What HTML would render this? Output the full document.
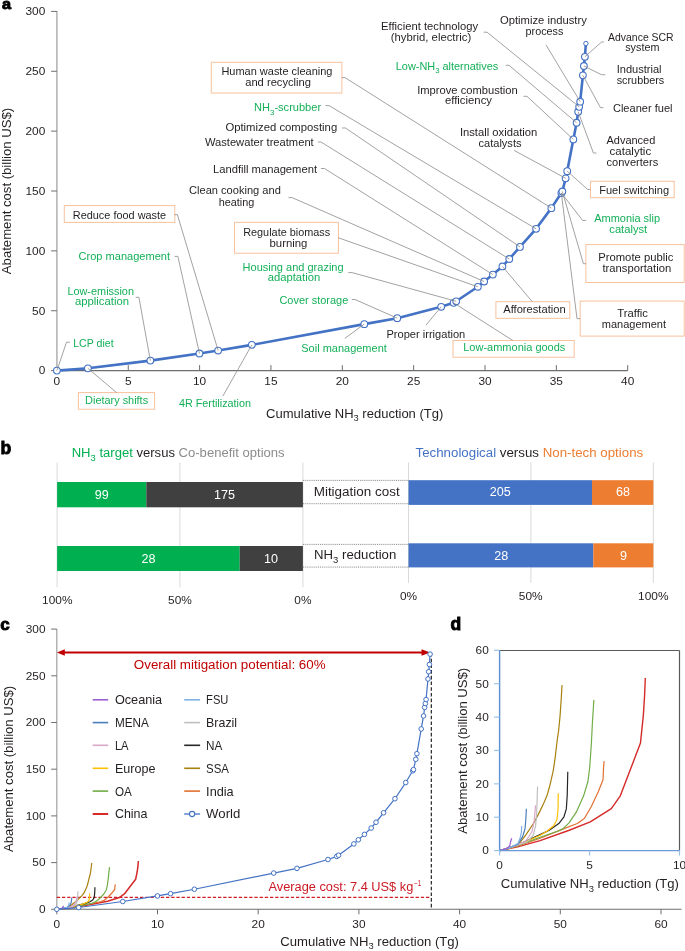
<!DOCTYPE html>
<html><head><meta charset="utf-8"><style>
html,body{margin:0;padding:0;background:#fff;}
svg{display:block;will-change:transform;}
text{font-family:"Liberation Sans",sans-serif;white-space:pre;}
</style></head><body>
<svg xml:space="preserve" width="685" height="951" viewBox="0 0 685 951">
<rect x="0" y="0" width="685" height="951" fill="#fff"/>
<line x1="56.90" y1="11.00" x2="56.90" y2="371.10" stroke="#b0b0b0" stroke-width="1.5"/>
<line x1="56.30" y1="370.60" x2="627.80" y2="370.60" stroke="#6e6e6e" stroke-width="1.1"/>
<line x1="51.10" y1="370.60" x2="56.90" y2="370.60" stroke="#6e6e6e" stroke-width="1"/>
<text x="38.70" y="374.40" font-size="10.5" fill="#231f20" style="" textLength="6.60" lengthAdjust="spacingAndGlyphs">0</text>
<line x1="51.10" y1="310.74" x2="56.90" y2="310.74" stroke="#6e6e6e" stroke-width="1"/>
<text x="32.10" y="314.54" font-size="10.5" fill="#231f20" style="" textLength="13.20" lengthAdjust="spacingAndGlyphs">50</text>
<line x1="51.10" y1="250.87" x2="56.90" y2="250.87" stroke="#6e6e6e" stroke-width="1"/>
<text x="25.50" y="254.67" font-size="10.5" fill="#231f20" style="" textLength="19.80" lengthAdjust="spacingAndGlyphs">100</text>
<line x1="51.10" y1="191.01" x2="56.90" y2="191.01" stroke="#6e6e6e" stroke-width="1"/>
<text x="25.50" y="194.81" font-size="10.5" fill="#231f20" style="" textLength="19.80" lengthAdjust="spacingAndGlyphs">150</text>
<line x1="51.10" y1="131.14" x2="56.90" y2="131.14" stroke="#6e6e6e" stroke-width="1"/>
<text x="25.50" y="134.94" font-size="10.5" fill="#231f20" style="" textLength="19.80" lengthAdjust="spacingAndGlyphs">200</text>
<line x1="51.10" y1="71.28" x2="56.90" y2="71.28" stroke="#6e6e6e" stroke-width="1"/>
<text x="25.50" y="75.08" font-size="10.5" fill="#231f20" style="" textLength="19.80" lengthAdjust="spacingAndGlyphs">250</text>
<line x1="51.10" y1="11.41" x2="56.90" y2="11.41" stroke="#6e6e6e" stroke-width="1"/>
<text x="25.50" y="15.21" font-size="10.5" fill="#231f20" style="" textLength="19.80" lengthAdjust="spacingAndGlyphs">300</text>
<text x="53.60" y="385.20" font-size="10.5" fill="#231f20" style="" textLength="6.60" lengthAdjust="spacingAndGlyphs">0</text>
<line x1="128.25" y1="370.60" x2="128.25" y2="365.10" stroke="#6e6e6e" stroke-width="1"/>
<text x="124.95" y="385.20" font-size="10.5" fill="#231f20" style="" textLength="6.60" lengthAdjust="spacingAndGlyphs">5</text>
<line x1="199.60" y1="370.60" x2="199.60" y2="365.10" stroke="#6e6e6e" stroke-width="1"/>
<text x="193.00" y="385.20" font-size="10.5" fill="#231f20" style="" textLength="13.20" lengthAdjust="spacingAndGlyphs">10</text>
<line x1="270.95" y1="370.60" x2="270.95" y2="365.10" stroke="#6e6e6e" stroke-width="1"/>
<text x="264.35" y="385.20" font-size="10.5" fill="#231f20" style="" textLength="13.20" lengthAdjust="spacingAndGlyphs">15</text>
<line x1="342.30" y1="370.60" x2="342.30" y2="365.10" stroke="#6e6e6e" stroke-width="1"/>
<text x="335.70" y="385.20" font-size="10.5" fill="#231f20" style="" textLength="13.20" lengthAdjust="spacingAndGlyphs">20</text>
<line x1="413.65" y1="370.60" x2="413.65" y2="365.10" stroke="#6e6e6e" stroke-width="1"/>
<text x="407.05" y="385.20" font-size="10.5" fill="#231f20" style="" textLength="13.20" lengthAdjust="spacingAndGlyphs">25</text>
<line x1="485.00" y1="370.60" x2="485.00" y2="365.10" stroke="#6e6e6e" stroke-width="1"/>
<text x="478.40" y="385.20" font-size="10.5" fill="#231f20" style="" textLength="13.20" lengthAdjust="spacingAndGlyphs">30</text>
<line x1="556.35" y1="370.60" x2="556.35" y2="365.10" stroke="#6e6e6e" stroke-width="1"/>
<text x="549.75" y="385.20" font-size="10.5" fill="#231f20" style="" textLength="13.20" lengthAdjust="spacingAndGlyphs">35</text>
<line x1="627.70" y1="370.60" x2="627.70" y2="365.10" stroke="#6e6e6e" stroke-width="1"/>
<text x="621.10" y="385.20" font-size="10.5" fill="#231f20" style="" textLength="13.20" lengthAdjust="spacingAndGlyphs">40</text>
<rect x="211.30" y="62.30" width="130.60" height="30.70" fill="#fff" stroke="#f7c29d" stroke-width="1"/>
<text x="221.40" y="74.90" font-size="11" fill="#231f20" style="" textLength="111.10" lengthAdjust="spacingAndGlyphs">Human waste cleaning</text>
<text x="245.20" y="86.40" font-size="11" fill="#231f20" style="" textLength="65.80" lengthAdjust="spacingAndGlyphs">and recycling</text>
<text x="254.00" y="111.20" font-size="11" fill="#14b058" style="" textLength="15.97" lengthAdjust="spacingAndGlyphs">NH</text>
<text x="269.97" y="114.83" font-size="7.92" fill="#14b058" style="" textLength="4.43" lengthAdjust="spacingAndGlyphs">3</text>
<text x="274.40" y="111.20" font-size="11" fill="#14b058" style="" textLength="46.70" lengthAdjust="spacingAndGlyphs">-scrubber</text>
<text x="225.40" y="131.40" font-size="11" fill="#231f20" style="" textLength="111.80" lengthAdjust="spacingAndGlyphs">Optimized composting</text>
<text x="204.90" y="146.30" font-size="11" fill="#231f20" style="" textLength="108.80" lengthAdjust="spacingAndGlyphs">Wastewater treatment</text>
<text x="213.00" y="172.60" font-size="11" fill="#231f20" style="" textLength="104.00" lengthAdjust="spacingAndGlyphs">Landfill management</text>
<text x="189.00" y="194.40" font-size="11" fill="#231f20" style="" textLength="91.80" lengthAdjust="spacingAndGlyphs">Clean cooking and</text>
<text x="218.70" y="205.50" font-size="11" fill="#231f20" style="" textLength="35.60" lengthAdjust="spacingAndGlyphs">heating</text>
<rect x="234.50" y="222.30" width="103.90" height="30.90" fill="#fff" stroke="#f7c29d" stroke-width="1"/>
<text x="243.20" y="235.80" font-size="11" fill="#231f20" style="" textLength="87.00" lengthAdjust="spacingAndGlyphs">Regulate biomass</text>
<text x="269.50" y="246.50" font-size="11" fill="#231f20" style="" textLength="37.90" lengthAdjust="spacingAndGlyphs">burning</text>
<text x="242.60" y="270.60" font-size="11" fill="#14b058" style="" textLength="101.00" lengthAdjust="spacingAndGlyphs">Housing and grazing</text>
<text x="267.70" y="281.20" font-size="11" fill="#14b058" style="" textLength="52.60" lengthAdjust="spacingAndGlyphs">adaptation</text>
<text x="279.40" y="304.30" font-size="11" fill="#14b058" style="" textLength="68.90" lengthAdjust="spacingAndGlyphs">Cover storage</text>
<text x="301.30" y="351.80" font-size="11" fill="#14b058" style="" textLength="85.50" lengthAdjust="spacingAndGlyphs">Soil management</text>
<text x="386.40" y="338.40" font-size="11" fill="#231f20" style="" textLength="78.90" lengthAdjust="spacingAndGlyphs">Proper irrigation</text>
<rect x="453.00" y="340.50" width="121.20" height="16.70" fill="#fff" stroke="#f7c29d" stroke-width="1"/>
<text x="463.20" y="351.30" font-size="11" fill="#14b058" style="" textLength="102.20" lengthAdjust="spacingAndGlyphs">Low-ammonia goods</text>
<rect x="495.90" y="301.70" width="73.90" height="16.60" fill="#fff" stroke="#f7c29d" stroke-width="1"/>
<text x="503.20" y="313.40" font-size="11" fill="#231f20" style="" textLength="62.50" lengthAdjust="spacingAndGlyphs">Afforestation</text>
<rect x="580.20" y="301.10" width="104.00" height="35.00" fill="#fff" stroke="#f7c29d" stroke-width="1"/>
<text x="617.30" y="316.60" font-size="11" fill="#231f20" style="" textLength="30.70" lengthAdjust="spacingAndGlyphs">Traffic</text>
<text x="601.80" y="327.60" font-size="11" fill="#231f20" style="" textLength="64.20" lengthAdjust="spacingAndGlyphs">management</text>
<rect x="585.90" y="244.60" width="98.30" height="37.90" fill="#fff" stroke="#f7c29d" stroke-width="1"/>
<text x="598.20" y="261.30" font-size="11" fill="#231f20" style="" textLength="75.20" lengthAdjust="spacingAndGlyphs">Promote public</text>
<text x="602.40" y="272.10" font-size="11" fill="#231f20" style="" textLength="68.80" lengthAdjust="spacingAndGlyphs">transportation</text>
<text x="594.20" y="221.50" font-size="11" fill="#14b058" style="" textLength="65.90" lengthAdjust="spacingAndGlyphs">Ammonia slip</text>
<text x="609.30" y="232.60" font-size="11" fill="#14b058" style="" textLength="37.90" lengthAdjust="spacingAndGlyphs">catalyst</text>
<rect x="590.50" y="181.30" width="83.70" height="16.40" fill="#fff" stroke="#f7c29d" stroke-width="1"/>
<text x="599.20" y="193.60" font-size="11" fill="#231f20" style="" textLength="69.90" lengthAdjust="spacingAndGlyphs">Fuel switching</text>
<text x="459.90" y="135.60" font-size="11" fill="#231f20" style="" textLength="77.40" lengthAdjust="spacingAndGlyphs">Install oxidation</text>
<text x="478.50" y="146.80" font-size="11" fill="#231f20" style="" textLength="43.00" lengthAdjust="spacingAndGlyphs">catalysts</text>
<text x="606.50" y="143.80" font-size="11" fill="#231f20" style="" textLength="48.80" lengthAdjust="spacingAndGlyphs">Advanced</text>
<text x="609.60" y="154.80" font-size="11" fill="#231f20" style="" textLength="41.60" lengthAdjust="spacingAndGlyphs">catalytic</text>
<text x="606.50" y="166.30" font-size="11" fill="#231f20" style="" textLength="51.70" lengthAdjust="spacingAndGlyphs">converters</text>
<text x="612.90" y="112.30" font-size="11" fill="#231f20" style="" textLength="59.70" lengthAdjust="spacingAndGlyphs">Cleaner fuel</text>
<text x="616.70" y="72.60" font-size="11" fill="#231f20" style="" textLength="44.90" lengthAdjust="spacingAndGlyphs">Industrial</text>
<text x="616.70" y="84.00" font-size="11" fill="#231f20" style="" textLength="47.50" lengthAdjust="spacingAndGlyphs">scrubbers</text>
<text x="608.10" y="40.50" font-size="11" fill="#231f20" style="" textLength="65.50" lengthAdjust="spacingAndGlyphs">Advance SCR</text>
<text x="625.20" y="51.40" font-size="11" fill="#231f20" style="" textLength="34.20" lengthAdjust="spacingAndGlyphs">system</text>
<text x="500.00" y="24.30" font-size="11" fill="#231f20" style="" textLength="86.80" lengthAdjust="spacingAndGlyphs">Optimize industry</text>
<text x="525.60" y="35.00" font-size="11" fill="#231f20" style="" textLength="37.80" lengthAdjust="spacingAndGlyphs">process</text>
<text x="381.10" y="30.30" font-size="11" fill="#231f20" style="" textLength="97.10" lengthAdjust="spacingAndGlyphs">Efficient technology</text>
<text x="390.80" y="40.50" font-size="11" fill="#231f20" style="" textLength="80.40" lengthAdjust="spacingAndGlyphs">(hybrid, electric)</text>
<text x="395.80" y="69.50" font-size="11" fill="#14b058" style="" textLength="39.33" lengthAdjust="spacingAndGlyphs">Low-NH</text>
<text x="435.13" y="73.13" font-size="7.92" fill="#14b058" style="" textLength="4.36" lengthAdjust="spacingAndGlyphs">3</text>
<text x="439.49" y="69.50" font-size="11" fill="#14b058" style="" textLength="58.71" lengthAdjust="spacingAndGlyphs"> alternatives</text>
<text x="417.20" y="93.50" font-size="11" fill="#231f20" style="" textLength="100.60" lengthAdjust="spacingAndGlyphs">Improve combustion</text>
<text x="444.90" y="104.30" font-size="11" fill="#231f20" style="" textLength="47.10" lengthAdjust="spacingAndGlyphs">efficiency</text>
<rect x="64.30" y="205.60" width="110.50" height="16.80" fill="#fff" stroke="#f7c29d" stroke-width="1"/>
<text x="72.80" y="218.50" font-size="11" fill="#231f20" style="" textLength="93.30" lengthAdjust="spacingAndGlyphs">Reduce food waste</text>
<text x="78.60" y="260.40" font-size="11" fill="#14b058" style="" textLength="91.40" lengthAdjust="spacingAndGlyphs">Crop management</text>
<text x="67.40" y="294.70" font-size="11" fill="#14b058" style="" textLength="66.60" lengthAdjust="spacingAndGlyphs">Low-emission</text>
<text x="74.90" y="305.20" font-size="11" fill="#14b058" style="" textLength="54.10" lengthAdjust="spacingAndGlyphs">application</text>
<text x="73.20" y="347.10" font-size="11" fill="#14b058" style="" textLength="40.40" lengthAdjust="spacingAndGlyphs">LCP diet</text>
<rect x="78.40" y="392.60" width="76.20" height="16.60" fill="#fff" stroke="#f7c29d" stroke-width="1"/>
<text x="85.10" y="403.70" font-size="11" fill="#14b058" style="" textLength="63.00" lengthAdjust="spacingAndGlyphs">Dietary shifts</text>
<text x="178.90" y="407.40" font-size="11" fill="#14b058" style="" textLength="72.10" lengthAdjust="spacingAndGlyphs">4R Fertilization</text>
<polyline points="56.90,370.60 87.87,368.33 150.37,360.60 199.46,353.48 218.15,350.55 251.83,344.86 364.28,324.14 397.24,318.16 441.19,306.78 453.61,302.83 456.17,301.28 477.86,286.79 484.14,281.52 492.85,274.58 502.41,266.43 509.26,259.01 519.96,246.92 536.09,228.84 551.36,208.13 561.34,193.04 562.34,191.48 565.63,178.31 567.20,171.13 573.33,139.40 576.61,122.76 578.18,111.74 579.18,106.83 580.18,101.69 582.89,75.35 583.89,66.01 584.89,56.79 585.89,43.50" fill="none" stroke="#4472c4" stroke-width="2.6" stroke-linejoin="round"/>
<circle cx="56.90" cy="370.60" r="3.35" fill="#fff" stroke="#4472c4" stroke-width="1.1"/>
<circle cx="87.87" cy="368.33" r="3.35" fill="#fff" stroke="#4472c4" stroke-width="1.1"/>
<circle cx="150.37" cy="360.60" r="3.35" fill="#fff" stroke="#4472c4" stroke-width="1.1"/>
<circle cx="199.46" cy="353.48" r="3.35" fill="#fff" stroke="#4472c4" stroke-width="1.1"/>
<circle cx="218.15" cy="350.55" r="3.35" fill="#fff" stroke="#4472c4" stroke-width="1.1"/>
<circle cx="251.83" cy="344.86" r="3.35" fill="#fff" stroke="#4472c4" stroke-width="1.1"/>
<circle cx="364.28" cy="324.14" r="3.35" fill="#fff" stroke="#4472c4" stroke-width="1.1"/>
<circle cx="397.24" cy="318.16" r="3.35" fill="#fff" stroke="#4472c4" stroke-width="1.1"/>
<circle cx="441.19" cy="306.78" r="3.35" fill="#fff" stroke="#4472c4" stroke-width="1.1"/>
<circle cx="453.61" cy="302.83" r="3.35" fill="#fff" stroke="#4472c4" stroke-width="1.1"/>
<circle cx="456.17" cy="301.28" r="3.35" fill="#fff" stroke="#4472c4" stroke-width="1.1"/>
<circle cx="477.86" cy="286.79" r="3.35" fill="#fff" stroke="#4472c4" stroke-width="1.1"/>
<circle cx="484.14" cy="281.52" r="3.35" fill="#fff" stroke="#4472c4" stroke-width="1.1"/>
<circle cx="492.85" cy="274.58" r="3.35" fill="#fff" stroke="#4472c4" stroke-width="1.1"/>
<circle cx="502.41" cy="266.43" r="3.35" fill="#fff" stroke="#4472c4" stroke-width="1.1"/>
<circle cx="509.26" cy="259.01" r="3.35" fill="#fff" stroke="#4472c4" stroke-width="1.1"/>
<circle cx="519.96" cy="246.92" r="3.35" fill="#fff" stroke="#4472c4" stroke-width="1.1"/>
<circle cx="536.09" cy="228.84" r="3.35" fill="#fff" stroke="#4472c4" stroke-width="1.1"/>
<circle cx="551.36" cy="208.13" r="3.35" fill="#fff" stroke="#4472c4" stroke-width="1.1"/>
<circle cx="561.34" cy="193.04" r="3.35" fill="#fff" stroke="#4472c4" stroke-width="1.1"/>
<circle cx="562.34" cy="191.48" r="3.35" fill="#fff" stroke="#4472c4" stroke-width="1.1"/>
<circle cx="565.63" cy="178.31" r="3.35" fill="#fff" stroke="#4472c4" stroke-width="1.1"/>
<circle cx="567.20" cy="171.13" r="3.35" fill="#fff" stroke="#4472c4" stroke-width="1.1"/>
<circle cx="573.33" cy="139.40" r="3.35" fill="#fff" stroke="#4472c4" stroke-width="1.1"/>
<circle cx="576.61" cy="122.76" r="3.35" fill="#fff" stroke="#4472c4" stroke-width="1.1"/>
<circle cx="578.18" cy="111.74" r="3.35" fill="#fff" stroke="#4472c4" stroke-width="1.1"/>
<circle cx="579.18" cy="106.83" r="3.35" fill="#fff" stroke="#4472c4" stroke-width="1.1"/>
<circle cx="580.18" cy="101.69" r="3.35" fill="#fff" stroke="#4472c4" stroke-width="1.1"/>
<circle cx="582.89" cy="75.35" r="3.35" fill="#fff" stroke="#4472c4" stroke-width="1.1"/>
<circle cx="583.89" cy="66.01" r="3.35" fill="#fff" stroke="#4472c4" stroke-width="1.1"/>
<circle cx="584.89" cy="56.79" r="3.35" fill="#fff" stroke="#4472c4" stroke-width="1.1"/>
<circle cx="585.89" cy="43.50" r="2.2" fill="#fff" stroke="#4472c4" stroke-width="1"/>
<polyline points="341.90,77.60 345.00,77.60 551.36,208.13" fill="none" stroke="#8a8a8a" stroke-width="0.8" stroke-linejoin="round"/>
<polyline points="325.50,105.60 329.00,105.60 536.09,228.84" fill="none" stroke="#8a8a8a" stroke-width="0.8" stroke-linejoin="round"/>
<polyline points="342.00,128.00 345.50,128.00 519.96,246.92" fill="none" stroke="#8a8a8a" stroke-width="0.8" stroke-linejoin="round"/>
<polyline points="317.70,142.00 321.00,142.00 509.26,259.01" fill="none" stroke="#8a8a8a" stroke-width="0.8" stroke-linejoin="round"/>
<polyline points="321.00,168.50 324.50,168.50 492.85,274.58" fill="none" stroke="#8a8a8a" stroke-width="0.8" stroke-linejoin="round"/>
<polyline points="288.50,197.60 292.00,197.60 484.14,281.52" fill="none" stroke="#8a8a8a" stroke-width="0.8" stroke-linejoin="round"/>
<polyline points="338.40,237.80 477.86,286.79" fill="none" stroke="#8a8a8a" stroke-width="0.8" stroke-linejoin="round"/>
<polyline points="348.30,272.60 352.00,272.60 456.17,301.28" fill="none" stroke="#8a8a8a" stroke-width="0.8" stroke-linejoin="round"/>
<polyline points="351.80,299.50 355.00,299.50 397.24,318.16" fill="none" stroke="#8a8a8a" stroke-width="0.8" stroke-linejoin="round"/>
<polyline points="344.80,338.40 364.28,324.14" fill="none" stroke="#8a8a8a" stroke-width="0.8" stroke-linejoin="round"/>
<polyline points="426.10,325.00 441.19,306.78" fill="none" stroke="#8a8a8a" stroke-width="0.8" stroke-linejoin="round"/>
<polyline points="512.80,340.50 453.61,302.83" fill="none" stroke="#8a8a8a" stroke-width="0.8" stroke-linejoin="round"/>
<polyline points="532.30,301.70 502.41,266.43" fill="none" stroke="#8a8a8a" stroke-width="0.8" stroke-linejoin="round"/>
<polyline points="580.20,318.70 577.00,318.70 561.34,193.04" fill="none" stroke="#8a8a8a" stroke-width="0.8" stroke-linejoin="round"/>
<polyline points="585.90,263.70 583.40,263.70 562.34,191.48" fill="none" stroke="#8a8a8a" stroke-width="0.8" stroke-linejoin="round"/>
<polyline points="586.10,220.40 582.60,220.40 561.34,193.04" fill="none" stroke="#8a8a8a" stroke-width="0.8" stroke-linejoin="round"/>
<polyline points="590.50,189.40 587.60,189.40 567.20,171.13" fill="none" stroke="#8a8a8a" stroke-width="0.8" stroke-linejoin="round"/>
<polyline points="514.10,150.40 565.63,178.31" fill="none" stroke="#8a8a8a" stroke-width="0.8" stroke-linejoin="round"/>
<polyline points="596.50,153.00 593.40,153.00 578.18,111.74" fill="none" stroke="#8a8a8a" stroke-width="0.8" stroke-linejoin="round"/>
<polyline points="603.40,107.70 600.50,107.70 582.89,75.35" fill="none" stroke="#8a8a8a" stroke-width="0.8" stroke-linejoin="round"/>
<polyline points="605.30,74.70 601.50,74.70 583.89,66.01" fill="none" stroke="#8a8a8a" stroke-width="0.8" stroke-linejoin="round"/>
<polyline points="603.90,42.00 601.60,42.00 584.89,56.79" fill="none" stroke="#8a8a8a" stroke-width="0.8" stroke-linejoin="round"/>
<polyline points="546.00,44.90 580.18,101.69" fill="none" stroke="#8a8a8a" stroke-width="0.8" stroke-linejoin="round"/>
<polyline points="483.70,32.20 487.00,32.20 579.18,106.83" fill="none" stroke="#8a8a8a" stroke-width="0.8" stroke-linejoin="round"/>
<polyline points="505.80,65.30 509.00,65.30 576.61,122.76" fill="none" stroke="#8a8a8a" stroke-width="0.8" stroke-linejoin="round"/>
<polyline points="523.40,96.30 527.00,96.30 573.33,139.40" fill="none" stroke="#8a8a8a" stroke-width="0.8" stroke-linejoin="round"/>
<polyline points="174.50,214.70 177.40,214.70 218.15,350.55" fill="none" stroke="#8a8a8a" stroke-width="0.8" stroke-linejoin="round"/>
<polyline points="174.60,256.40 177.90,256.40 199.46,353.48" fill="none" stroke="#8a8a8a" stroke-width="0.8" stroke-linejoin="round"/>
<polyline points="135.70,297.30 138.90,297.30 150.37,360.60" fill="none" stroke="#8a8a8a" stroke-width="0.8" stroke-linejoin="round"/>
<polyline points="70.00,342.20 66.50,342.20 56.90,370.60" fill="none" stroke="#8a8a8a" stroke-width="0.8" stroke-linejoin="round"/>
<polyline points="116.60,392.60 87.87,368.33" fill="none" stroke="#8a8a8a" stroke-width="0.8" stroke-linejoin="round"/>
<polyline points="222.90,396.00 251.83,344.86" fill="none" stroke="#8a8a8a" stroke-width="0.8" stroke-linejoin="round"/>
<text x="266.10" y="417.50" font-size="13" fill="#231f20" style="" textLength="87.44" lengthAdjust="spacingAndGlyphs">Cumulative NH</text>
<text x="353.54" y="421.10" font-size="9.36" fill="#231f20" style="" textLength="5.21" lengthAdjust="spacingAndGlyphs">3</text>
<text x="358.75" y="417.50" font-size="13" fill="#231f20" style="" textLength="84.55" lengthAdjust="spacingAndGlyphs"> reduction (Tg)</text>
<text transform="translate(10.9,191) rotate(-90)" x="-83.15" y="0" font-size="13" fill="#231f20" textLength="166.3" lengthAdjust="spacingAndGlyphs">Abatement cost (billion US$)</text>
<text transform="translate(2.0,9.0) scale(1.12,1)" x="0" y="0" font-size="14.6" font-weight="bold" fill="#000" stroke="#000" stroke-width="0.8">a</text>
<text x="0.6" y="453.6" font-size="17.6" font-weight="bold" fill="#000" stroke="#000" stroke-width="0.8">b</text>
<text x="71.70" y="457.00" font-size="12.5" fill="#00b050" style="" textLength="18.87" lengthAdjust="spacingAndGlyphs">NH</text>
<text x="90.57" y="460.50" font-size="9.0" fill="#00b050" style="" textLength="5.23" lengthAdjust="spacingAndGlyphs">3</text>
<text x="95.80" y="457.00" font-size="12.5" fill="#00b050" style="" textLength="37.03" lengthAdjust="spacingAndGlyphs"> target</text>
<text x="132.84" y="457.00" font-size="12.5" fill="#231f20" style="" textLength="45.74" lengthAdjust="spacingAndGlyphs"> versus </text>
<text x="178.57" y="457.00" font-size="12.5" fill="#8c8c8c" style="" textLength="106.03" lengthAdjust="spacingAndGlyphs">Co-benefit options</text>
<text x="415.50" y="456.70" font-size="12.5" fill="#4472c4" style="" textLength="80.59" lengthAdjust="spacingAndGlyphs">Technological</text>
<text x="496.09" y="456.70" font-size="12.5" fill="#231f20" style="" textLength="46.56" lengthAdjust="spacingAndGlyphs"> versus </text>
<text x="542.65" y="456.70" font-size="12.5" fill="#ed7d31" style="" textLength="100.55" lengthAdjust="spacingAndGlyphs">Non-tech options</text>
<line x1="57.10" y1="462.50" x2="57.10" y2="587.30" stroke="#d9d9d9" stroke-width="1"/>
<line x1="179.90" y1="462.50" x2="179.90" y2="587.30" stroke="#d9d9d9" stroke-width="1"/>
<line x1="302.90" y1="462.50" x2="302.90" y2="587.30" stroke="#d9d9d9" stroke-width="1"/>
<line x1="408.50" y1="462.50" x2="408.50" y2="582.80" stroke="#d9d9d9" stroke-width="1"/>
<line x1="530.90" y1="462.50" x2="530.90" y2="582.80" stroke="#d9d9d9" stroke-width="1"/>
<line x1="653.30" y1="462.50" x2="653.30" y2="582.80" stroke="#d9d9d9" stroke-width="1"/>
<rect x="57.10" y="482.00" width="89.20" height="25.30" fill="#00b050" stroke="none" stroke-width="1"/>
<rect x="146.30" y="482.00" width="156.60" height="25.30" fill="#404040" stroke="none" stroke-width="1"/>
<rect x="57.10" y="546.00" width="182.60" height="25.00" fill="#00b050" stroke="none" stroke-width="1"/>
<rect x="239.70" y="546.00" width="63.20" height="25.00" fill="#404040" stroke="none" stroke-width="1"/>
<rect x="408.50" y="480.20" width="183.50" height="24.70" fill="#4472c4" stroke="none" stroke-width="1"/>
<rect x="592.00" y="480.20" width="61.30" height="24.70" fill="#ed7d31" stroke="none" stroke-width="1"/>
<rect x="408.50" y="543.30" width="184.80" height="24.10" fill="#4472c4" stroke="none" stroke-width="1"/>
<rect x="593.30" y="543.30" width="60.00" height="24.10" fill="#ed7d31" stroke="none" stroke-width="1"/>
<text x="94.70" y="498.80" font-size="12.5" fill="#fff" style="" textLength="14.00" lengthAdjust="spacingAndGlyphs">99</text>
<text x="214.10" y="498.80" font-size="12.5" fill="#fff" style="" textLength="21.00" lengthAdjust="spacingAndGlyphs">175</text>
<text x="141.40" y="562.60" font-size="12.5" fill="#fff" style="" textLength="14.00" lengthAdjust="spacingAndGlyphs">28</text>
<text x="264.10" y="562.60" font-size="12.5" fill="#fff" style="" textLength="14.00" lengthAdjust="spacingAndGlyphs">10</text>
<text x="489.70" y="496.40" font-size="12.5" fill="#fff" style="" textLength="21.00" lengthAdjust="spacingAndGlyphs">205</text>
<text x="616.00" y="496.40" font-size="12.5" fill="#fff" style="" textLength="14.00" lengthAdjust="spacingAndGlyphs">68</text>
<text x="494.20" y="559.50" font-size="12.5" fill="#fff" style="" textLength="14.00" lengthAdjust="spacingAndGlyphs">28</text>
<text x="619.90" y="559.50" font-size="12.5" fill="#fff" style="" textLength="7.00" lengthAdjust="spacingAndGlyphs">9</text>
<line x1="302.90" y1="480.40" x2="408.50" y2="480.40" stroke="#666" stroke-width="0.75" stroke-dasharray="1,0.9"/>
<line x1="302.90" y1="503.70" x2="408.50" y2="503.70" stroke="#666" stroke-width="0.75" stroke-dasharray="1,0.9"/>
<line x1="302.90" y1="544.40" x2="408.50" y2="544.40" stroke="#666" stroke-width="0.75" stroke-dasharray="1,0.9"/>
<line x1="302.90" y1="567.10" x2="408.50" y2="567.10" stroke="#666" stroke-width="0.75" stroke-dasharray="1,0.9"/>
<text x="313.70" y="495.60" font-size="12.5" fill="#231f20" style="" textLength="86.00" lengthAdjust="spacingAndGlyphs">Mitigation cost</text>
<text x="314.10" y="559.00" font-size="12.5" fill="#231f20" style="" textLength="19.04" lengthAdjust="spacingAndGlyphs">NH</text>
<text x="333.14" y="562.50" font-size="9.0" fill="#231f20" style="" textLength="5.28" lengthAdjust="spacingAndGlyphs">3</text>
<text x="338.42" y="559.00" font-size="12.5" fill="#231f20" style="" textLength="57.88" lengthAdjust="spacingAndGlyphs"> reduction</text>
<text x="42.11" y="603.80" font-size="11" fill="#231f20" style="" textLength="30.38" lengthAdjust="spacingAndGlyphs">100%</text>
<text x="168.11" y="603.80" font-size="11" fill="#231f20" style="" textLength="23.78" lengthAdjust="spacingAndGlyphs">50%</text>
<text x="294.31" y="603.80" font-size="11" fill="#231f20" style="" textLength="17.17" lengthAdjust="spacingAndGlyphs">0%</text>
<text x="399.91" y="600.10" font-size="11" fill="#231f20" style="" textLength="17.17" lengthAdjust="spacingAndGlyphs">0%</text>
<text x="518.81" y="600.10" font-size="11" fill="#231f20" style="" textLength="23.78" lengthAdjust="spacingAndGlyphs">50%</text>
<text x="638.11" y="600.10" font-size="11" fill="#231f20" style="" textLength="30.38" lengthAdjust="spacingAndGlyphs">100%</text>
<text x="0.2" y="630.2" font-size="17" font-weight="bold" fill="#000" stroke="#000" stroke-width="0.9">c</text>
<line x1="56.80" y1="629.00" x2="56.80" y2="909.80" stroke="#a0a0a0" stroke-width="1.2"/>
<line x1="56.20" y1="909.30" x2="681.50" y2="909.30" stroke="#6e6e6e" stroke-width="1.1"/>
<line x1="51.20" y1="909.30" x2="56.80" y2="909.30" stroke="#6e6e6e" stroke-width="1"/>
<text x="38.90" y="913.10" font-size="10.5" fill="#231f20" style="" textLength="6.60" lengthAdjust="spacingAndGlyphs">0</text>
<line x1="51.20" y1="862.60" x2="56.80" y2="862.60" stroke="#6e6e6e" stroke-width="1"/>
<text x="32.30" y="866.40" font-size="10.5" fill="#231f20" style="" textLength="13.20" lengthAdjust="spacingAndGlyphs">50</text>
<line x1="51.20" y1="815.90" x2="56.80" y2="815.90" stroke="#6e6e6e" stroke-width="1"/>
<text x="25.70" y="819.70" font-size="10.5" fill="#231f20" style="" textLength="19.80" lengthAdjust="spacingAndGlyphs">100</text>
<line x1="51.20" y1="769.20" x2="56.80" y2="769.20" stroke="#6e6e6e" stroke-width="1"/>
<text x="25.70" y="773.00" font-size="10.5" fill="#231f20" style="" textLength="19.80" lengthAdjust="spacingAndGlyphs">150</text>
<line x1="51.20" y1="722.50" x2="56.80" y2="722.50" stroke="#6e6e6e" stroke-width="1"/>
<text x="25.70" y="726.30" font-size="10.5" fill="#231f20" style="" textLength="19.80" lengthAdjust="spacingAndGlyphs">200</text>
<line x1="51.20" y1="675.80" x2="56.80" y2="675.80" stroke="#6e6e6e" stroke-width="1"/>
<text x="25.70" y="679.60" font-size="10.5" fill="#231f20" style="" textLength="19.80" lengthAdjust="spacingAndGlyphs">250</text>
<line x1="51.20" y1="629.10" x2="56.80" y2="629.10" stroke="#6e6e6e" stroke-width="1"/>
<text x="25.70" y="632.90" font-size="10.5" fill="#231f20" style="" textLength="19.80" lengthAdjust="spacingAndGlyphs">300</text>
<line x1="56.80" y1="909.30" x2="56.80" y2="914.30" stroke="#6e6e6e" stroke-width="1"/>
<text x="53.50" y="928.30" font-size="10.5" fill="#231f20" style="" textLength="6.60" lengthAdjust="spacingAndGlyphs">0</text>
<line x1="157.50" y1="909.30" x2="157.50" y2="914.30" stroke="#6e6e6e" stroke-width="1"/>
<text x="150.90" y="928.30" font-size="10.5" fill="#231f20" style="" textLength="13.20" lengthAdjust="spacingAndGlyphs">10</text>
<line x1="258.20" y1="909.30" x2="258.20" y2="914.30" stroke="#6e6e6e" stroke-width="1"/>
<text x="251.60" y="928.30" font-size="10.5" fill="#231f20" style="" textLength="13.20" lengthAdjust="spacingAndGlyphs">20</text>
<line x1="358.90" y1="909.30" x2="358.90" y2="914.30" stroke="#6e6e6e" stroke-width="1"/>
<text x="352.30" y="928.30" font-size="10.5" fill="#231f20" style="" textLength="13.20" lengthAdjust="spacingAndGlyphs">30</text>
<line x1="459.60" y1="909.30" x2="459.60" y2="914.30" stroke="#6e6e6e" stroke-width="1"/>
<text x="453.00" y="928.30" font-size="10.5" fill="#231f20" style="" textLength="13.20" lengthAdjust="spacingAndGlyphs">40</text>
<line x1="560.30" y1="909.30" x2="560.30" y2="914.30" stroke="#6e6e6e" stroke-width="1"/>
<text x="553.70" y="928.30" font-size="10.5" fill="#231f20" style="" textLength="13.20" lengthAdjust="spacingAndGlyphs">50</text>
<line x1="661.00" y1="909.30" x2="661.00" y2="914.30" stroke="#6e6e6e" stroke-width="1"/>
<text x="654.40" y="928.30" font-size="10.5" fill="#231f20" style="" textLength="13.20" lengthAdjust="spacingAndGlyphs">60</text>
<text x="280.20" y="945.60" font-size="13" fill="#231f20" style="" textLength="88.23" lengthAdjust="spacingAndGlyphs">Cumulative NH</text>
<text x="368.43" y="949.20" font-size="9.36" fill="#231f20" style="" textLength="5.25" lengthAdjust="spacingAndGlyphs">3</text>
<text x="373.68" y="945.60" font-size="13" fill="#231f20" style="" textLength="85.32" lengthAdjust="spacingAndGlyphs"> reduction (Tg)</text>
<text transform="translate(12.7,768.9) rotate(-90)" x="-83.00" y="0" font-size="13" fill="#231f20" textLength="166" lengthAdjust="spacingAndGlyphs">Abatement cost (billion US$)</text>
<line x1="63.00" y1="652.50" x2="424.50" y2="652.50" stroke="#c00000" stroke-width="2.2"/>
<polygon points="56.9,652.5 64.8,649.2 64.8,655.8" fill="#c00000"/>
<polygon points="430.2,652.5 421.5,649.2 421.5,655.8" fill="#c00000"/>
<text x="133.80" y="668.90" font-size="12.5" fill="#c00000" style="" textLength="191.80" lengthAdjust="spacingAndGlyphs">Overall mitigation potential: 60%</text>
<line x1="431.30" y1="653.00" x2="431.30" y2="909.30" stroke="#111" stroke-width="1.1" stroke-dasharray="3.6,2.1"/>
<line x1="56.80" y1="897.30" x2="431.30" y2="897.30" stroke="#d01c24" stroke-width="1.25" stroke-dasharray="3.3,1.9"/>
<text x="268.50" y="890.90" font-size="12.5" fill="#cc1a24" style="" textLength="144.80" lengthAdjust="spacingAndGlyphs">Average cost: 7.4 US$ kg</text>
<text x="414.30" y="886.30" font-size="8.5" fill="#cc1a24" style="" textLength="6.90" lengthAdjust="spacingAndGlyphs">−1</text>
<line x1="92.70" y1="699.80" x2="108.20" y2="699.80" stroke="#9b5fd0" stroke-width="1.6"/>
<text x="114.90" y="704.20" font-size="12.7" fill="#231f20" style="" textLength="47.30" lengthAdjust="spacingAndGlyphs">Oceania</text>
<line x1="92.70" y1="722.60" x2="108.20" y2="722.60" stroke="#4a7ebb" stroke-width="1.6"/>
<text x="114.90" y="727.00" font-size="12.7" fill="#231f20" style="" textLength="33.90" lengthAdjust="spacingAndGlyphs">MENA</text>
<line x1="92.70" y1="745.30" x2="108.20" y2="745.30" stroke="#d9a6c9" stroke-width="1.6"/>
<text x="114.90" y="749.70" font-size="12.7" fill="#231f20" style="" textLength="13.70" lengthAdjust="spacingAndGlyphs">LA</text>
<line x1="92.70" y1="768.30" x2="108.20" y2="768.30" stroke="#ffc000" stroke-width="1.6"/>
<text x="114.90" y="772.70" font-size="12.7" fill="#231f20" style="" textLength="40.50" lengthAdjust="spacingAndGlyphs">Europe</text>
<line x1="92.70" y1="791.10" x2="108.20" y2="791.10" stroke="#70ad47" stroke-width="1.6"/>
<text x="114.90" y="795.50" font-size="12.7" fill="#231f20" style="" textLength="16.90" lengthAdjust="spacingAndGlyphs">OA</text>
<line x1="92.70" y1="814.00" x2="108.20" y2="814.00" stroke="#d62a2a" stroke-width="2.0"/>
<text x="114.90" y="818.40" font-size="12.7" fill="#231f20" style="" textLength="32.60" lengthAdjust="spacingAndGlyphs">China</text>
<line x1="184.20" y1="699.80" x2="200.10" y2="699.80" stroke="#7fb2e5" stroke-width="1.6"/>
<text x="206.10" y="704.20" font-size="12.7" fill="#231f20" style="" textLength="22.30" lengthAdjust="spacingAndGlyphs">FSU</text>
<line x1="184.20" y1="722.60" x2="200.10" y2="722.60" stroke="#bfbfbf" stroke-width="1.6"/>
<text x="206.10" y="727.00" font-size="12.7" fill="#231f20" style="" textLength="31.00" lengthAdjust="spacingAndGlyphs">Brazil</text>
<line x1="184.20" y1="745.30" x2="200.10" y2="745.30" stroke="#262626" stroke-width="1.6"/>
<text x="206.10" y="749.70" font-size="12.7" fill="#231f20" style="" textLength="16.30" lengthAdjust="spacingAndGlyphs">NA</text>
<line x1="184.20" y1="768.30" x2="200.10" y2="768.30" stroke="#a8800e" stroke-width="1.6"/>
<text x="206.10" y="772.70" font-size="12.7" fill="#231f20" style="" textLength="22.90" lengthAdjust="spacingAndGlyphs">SSA</text>
<line x1="184.20" y1="791.10" x2="200.10" y2="791.10" stroke="#e07030" stroke-width="1.6"/>
<text x="206.10" y="795.50" font-size="12.7" fill="#231f20" style="" textLength="27.60" lengthAdjust="spacingAndGlyphs">India</text>
<line x1="184.20" y1="814.00" x2="200.10" y2="814.00" stroke="#4472c4" stroke-width="1.3"/>
<circle cx="192.10" cy="814.00" r="2.6" fill="#fff" stroke="#4472c4" stroke-width="1.1"/>
<text x="206.10" y="818.40" font-size="12.7" fill="#231f20" style="" textLength="34.20" lengthAdjust="spacingAndGlyphs">World</text>
<polyline points="56.80,909.30 66.87,908.27 79.46,906.50 95.77,903.60 107.55,901.27 119.33,897.53 124.37,893.98 135.65,879.23 137.26,871.47 137.96,865.87 138.37,861.01" fill="none" stroke="#d62a2a" stroke-width="1.5" stroke-linejoin="round"/>
<polyline points="56.80,909.30 66.87,908.09 79.46,905.84 92.55,903.23 100.30,901.73 104.23,900.33 108.16,896.97 112.08,892.77 114.70,889.50 115.00,885.95 115.31,884.27" fill="none" stroke="#e07030" stroke-width="1.2" stroke-linejoin="round"/>
<polyline points="56.80,909.30 66.87,907.90 79.46,905.56 89.23,903.88 92.25,903.23 95.77,901.45 99.80,898.47 103.83,893.98 106.24,889.97 107.25,885.95 108.16,879.41 108.76,873.43 109.57,867.18" fill="none" stroke="#70ad47" stroke-width="1.2" stroke-linejoin="round"/>
<polyline points="56.80,909.30 66.87,907.71 79.46,904.82 84.59,903.60 89.93,901.73 92.75,899.96 94.16,897.62 94.66,893.70 94.97,887.26" fill="none" stroke="#262626" stroke-width="1.2" stroke-linejoin="round"/>
<polyline points="56.80,909.30 66.87,907.81 79.46,905.00 83.28,903.88 87.21,902.29 88.92,900.61 89.53,897.62 89.63,893.24" fill="none" stroke="#ffc000" stroke-width="1.2" stroke-linejoin="round"/>
<polyline points="56.80,909.30 61.83,908.79 67.07,907.76 71.40,904.97 76.54,901.10 79.46,898.19 81.67,895.85 83.28,893.98 84.79,891.37 86.81,886.98 87.82,883.62 89.02,878.48 89.83,875.77 90.64,871.66 91.24,867.27 91.74,862.97" fill="none" stroke="#a8800e" stroke-width="1.2" stroke-linejoin="round"/>
<polyline points="56.80,909.30 62.84,908.46 72.21,906.89 75.63,904.97 76.94,902.39 77.54,898.93 78.05,891.37" fill="none" stroke="#bfbfbf" stroke-width="1.2" stroke-linejoin="round"/>
<polyline points="56.80,909.30 62.84,908.46 71.40,906.68 74.83,904.10 76.13,901.10 76.54,898.93 76.94,896.60" fill="none" stroke="#d9a6c9" stroke-width="1.2" stroke-linejoin="round"/>
<polyline points="56.80,909.30 61.83,908.65 67.07,907.53 69.69,905.39 71.00,903.26 71.40,901.10 71.80,897.58" fill="none" stroke="#4a7ebb" stroke-width="1.2" stroke-linejoin="round"/>
<polyline points="56.80,909.30 61.83,908.65 67.07,907.31 68.38,905.61 68.98,904.10 69.19,902.39" fill="none" stroke="#7fb2e5" stroke-width="1.2" stroke-linejoin="round"/>
<polyline points="56.80,909.30 58.81,909.02 61.13,908.60 62.44,907.96 62.94,906.89 63.55,905.84" fill="none" stroke="#9b5fd0" stroke-width="1.2" stroke-linejoin="round"/>
<polyline points="56.80,909.30 78.65,907.53 122.76,901.50 157.40,895.94 170.59,893.66 194.36,889.22 273.71,873.06 296.97,868.39 327.99,859.52 336.75,856.44 338.56,855.22 353.87,843.92 358.30,839.81 364.44,834.39 371.19,828.04 376.02,822.25 383.57,812.82 394.95,798.71 405.73,782.56 412.77,770.79 413.48,769.57 415.80,759.30 416.90,753.70 421.23,728.94 423.55,715.96 424.66,707.37 425.36,703.54 426.07,699.52 427.98,678.98 428.69,671.69 429.39,664.50 430.09,654.13" fill="none" stroke="#4472c4" stroke-width="1.2" stroke-linejoin="round"/>
<circle cx="56.80" cy="909.30" r="2.3" fill="#fff" stroke="#4472c4" stroke-width="1.0"/>
<circle cx="78.65" cy="907.53" r="2.3" fill="#fff" stroke="#4472c4" stroke-width="1.0"/>
<circle cx="122.76" cy="901.50" r="2.3" fill="#fff" stroke="#4472c4" stroke-width="1.0"/>
<circle cx="157.40" cy="895.94" r="2.3" fill="#fff" stroke="#4472c4" stroke-width="1.0"/>
<circle cx="170.59" cy="893.66" r="2.3" fill="#fff" stroke="#4472c4" stroke-width="1.0"/>
<circle cx="194.36" cy="889.22" r="2.3" fill="#fff" stroke="#4472c4" stroke-width="1.0"/>
<circle cx="273.71" cy="873.06" r="2.3" fill="#fff" stroke="#4472c4" stroke-width="1.0"/>
<circle cx="296.97" cy="868.39" r="2.3" fill="#fff" stroke="#4472c4" stroke-width="1.0"/>
<circle cx="327.99" cy="859.52" r="2.3" fill="#fff" stroke="#4472c4" stroke-width="1.0"/>
<circle cx="336.75" cy="856.44" r="2.3" fill="#fff" stroke="#4472c4" stroke-width="1.0"/>
<circle cx="338.56" cy="855.22" r="2.3" fill="#fff" stroke="#4472c4" stroke-width="1.0"/>
<circle cx="353.87" cy="843.92" r="2.3" fill="#fff" stroke="#4472c4" stroke-width="1.0"/>
<circle cx="358.30" cy="839.81" r="2.3" fill="#fff" stroke="#4472c4" stroke-width="1.0"/>
<circle cx="364.44" cy="834.39" r="2.3" fill="#fff" stroke="#4472c4" stroke-width="1.0"/>
<circle cx="371.19" cy="828.04" r="2.3" fill="#fff" stroke="#4472c4" stroke-width="1.0"/>
<circle cx="376.02" cy="822.25" r="2.3" fill="#fff" stroke="#4472c4" stroke-width="1.0"/>
<circle cx="383.57" cy="812.82" r="2.3" fill="#fff" stroke="#4472c4" stroke-width="1.0"/>
<circle cx="394.95" cy="798.71" r="2.3" fill="#fff" stroke="#4472c4" stroke-width="1.0"/>
<circle cx="405.73" cy="782.56" r="2.3" fill="#fff" stroke="#4472c4" stroke-width="1.0"/>
<circle cx="412.77" cy="770.79" r="2.3" fill="#fff" stroke="#4472c4" stroke-width="1.0"/>
<circle cx="413.48" cy="769.57" r="2.3" fill="#fff" stroke="#4472c4" stroke-width="1.0"/>
<circle cx="415.80" cy="759.30" r="2.3" fill="#fff" stroke="#4472c4" stroke-width="1.0"/>
<circle cx="416.90" cy="753.70" r="2.3" fill="#fff" stroke="#4472c4" stroke-width="1.0"/>
<circle cx="421.23" cy="728.94" r="2.3" fill="#fff" stroke="#4472c4" stroke-width="1.0"/>
<circle cx="423.55" cy="715.96" r="2.3" fill="#fff" stroke="#4472c4" stroke-width="1.0"/>
<circle cx="424.66" cy="707.37" r="2.3" fill="#fff" stroke="#4472c4" stroke-width="1.0"/>
<circle cx="425.36" cy="703.54" r="2.3" fill="#fff" stroke="#4472c4" stroke-width="1.0"/>
<circle cx="426.07" cy="699.52" r="2.3" fill="#fff" stroke="#4472c4" stroke-width="1.0"/>
<circle cx="427.98" cy="678.98" r="2.3" fill="#fff" stroke="#4472c4" stroke-width="1.0"/>
<circle cx="428.69" cy="671.69" r="2.3" fill="#fff" stroke="#4472c4" stroke-width="1.0"/>
<circle cx="429.39" cy="664.50" r="2.3" fill="#fff" stroke="#4472c4" stroke-width="1.0"/>
<circle cx="430.09" cy="654.13" r="2.3" fill="#fff" stroke="#4472c4" stroke-width="1.0"/>
<text x="450.6" y="630.0" font-size="17.5" font-weight="bold" fill="#000" stroke="#000" stroke-width="0.9">d</text>
<polyline points="499.60,850.60 517.59,846.93 540.08,840.59 569.22,830.24 590.27,821.89 611.32,808.54 620.31,795.86 640.46,743.12 643.34,715.41 644.60,695.38 645.32,678.03" fill="none" stroke="#d62a2a" stroke-width="1.4" stroke-linejoin="round"/>
<polyline points="499.60,850.60 517.59,846.26 540.08,838.25 563.46,828.90 577.32,823.56 584.33,818.56 591.35,806.54 598.37,791.52 603.04,779.83 603.58,767.15 604.12,761.14" fill="none" stroke="#e07030" stroke-width="1.2" stroke-linejoin="round"/>
<polyline points="499.60,850.60 517.59,845.59 540.08,837.25 557.53,831.24 562.92,828.90 569.22,822.56 576.42,811.88 583.61,795.86 587.93,781.50 589.73,767.15 591.35,743.78 592.43,722.42 593.87,700.06" fill="none" stroke="#70ad47" stroke-width="1.2" stroke-linejoin="round"/>
<polyline points="499.60,850.60 517.59,844.93 540.08,834.58 549.25,830.24 558.79,823.56 563.82,817.22 566.34,808.88 567.24,794.86 567.78,771.82" fill="none" stroke="#262626" stroke-width="1.2" stroke-linejoin="round"/>
<polyline points="499.60,850.60 517.59,845.26 540.08,835.25 546.91,831.24 553.93,825.57 556.99,819.56 558.07,808.88 558.25,793.19" fill="none" stroke="#ffc000" stroke-width="1.2" stroke-linejoin="round"/>
<polyline points="499.60,850.60 508.60,848.76 517.95,845.09 525.69,835.11 534.86,821.29 540.08,810.88 544.04,802.53 546.91,795.86 549.61,786.51 553.21,770.82 555.01,758.81 557.17,740.45 558.61,730.77 560.05,716.08 561.13,700.39 562.03,685.04" fill="none" stroke="#a8800e" stroke-width="1.2" stroke-linejoin="round"/>
<polyline points="499.60,850.60 510.39,847.60 527.12,841.99 533.24,835.11 535.58,825.90 536.66,813.55 537.56,786.51" fill="none" stroke="#bfbfbf" stroke-width="1.2" stroke-linejoin="round"/>
<polyline points="499.60,850.60 510.39,847.60 525.69,841.25 531.80,832.01 534.14,821.29 534.86,813.55 535.58,805.20" fill="none" stroke="#d9a6c9" stroke-width="1.2" stroke-linejoin="round"/>
<polyline points="499.60,850.60 508.60,848.26 517.95,844.26 522.63,836.61 524.97,829.00 525.69,821.29 526.41,808.71" fill="none" stroke="#4a7ebb" stroke-width="1.2" stroke-linejoin="round"/>
<polyline points="499.60,850.60 508.60,848.26 517.95,843.49 520.29,837.41 521.37,832.01 521.73,825.90" fill="none" stroke="#7fb2e5" stroke-width="1.2" stroke-linejoin="round"/>
<polyline points="499.60,850.60 503.20,849.60 507.34,848.10 509.67,845.79 510.57,841.99 511.65,838.25" fill="none" stroke="#9b5fd0" stroke-width="1.2" stroke-linejoin="round"/>
<line x1="499.60" y1="650.50" x2="679.50" y2="650.50" stroke="#595959" stroke-width="1.2"/>
<line x1="679.50" y1="650.50" x2="679.50" y2="850.60" stroke="#595959" stroke-width="1.2"/>
<line x1="499.60" y1="650.00" x2="499.60" y2="851.20" stroke="#5b8fcf" stroke-width="1.4"/>
<line x1="499.00" y1="850.60" x2="679.50" y2="850.60" stroke="#6a9bd8" stroke-width="1.4"/>
<line x1="494.10" y1="850.60" x2="499.60" y2="850.60" stroke="#9cc2e8" stroke-width="1.2"/>
<text x="482.20" y="854.40" font-size="10.5" fill="#231f20" style="" textLength="6.60" lengthAdjust="spacingAndGlyphs">0</text>
<line x1="494.10" y1="817.22" x2="499.60" y2="817.22" stroke="#9cc2e8" stroke-width="1.2"/>
<text x="475.60" y="821.02" font-size="10.5" fill="#231f20" style="" textLength="13.20" lengthAdjust="spacingAndGlyphs">10</text>
<line x1="494.10" y1="783.84" x2="499.60" y2="783.84" stroke="#9cc2e8" stroke-width="1.2"/>
<text x="475.60" y="787.64" font-size="10.5" fill="#231f20" style="" textLength="13.20" lengthAdjust="spacingAndGlyphs">20</text>
<line x1="494.10" y1="750.46" x2="499.60" y2="750.46" stroke="#9cc2e8" stroke-width="1.2"/>
<text x="475.60" y="754.26" font-size="10.5" fill="#231f20" style="" textLength="13.20" lengthAdjust="spacingAndGlyphs">30</text>
<line x1="494.10" y1="717.08" x2="499.60" y2="717.08" stroke="#9cc2e8" stroke-width="1.2"/>
<text x="475.60" y="720.88" font-size="10.5" fill="#231f20" style="" textLength="13.20" lengthAdjust="spacingAndGlyphs">40</text>
<line x1="494.10" y1="683.70" x2="499.60" y2="683.70" stroke="#9cc2e8" stroke-width="1.2"/>
<text x="475.60" y="687.50" font-size="10.5" fill="#231f20" style="" textLength="13.20" lengthAdjust="spacingAndGlyphs">50</text>
<line x1="494.10" y1="650.32" x2="499.60" y2="650.32" stroke="#9cc2e8" stroke-width="1.2"/>
<text x="475.60" y="654.12" font-size="10.5" fill="#231f20" style="" textLength="13.20" lengthAdjust="spacingAndGlyphs">60</text>
<line x1="499.60" y1="850.60" x2="499.60" y2="855.60" stroke="#9cc2e8" stroke-width="1.2"/>
<text x="496.30" y="869.40" font-size="10.5" fill="#231f20" style="" textLength="6.60" lengthAdjust="spacingAndGlyphs">0</text>
<line x1="589.55" y1="850.60" x2="589.55" y2="855.60" stroke="#9cc2e8" stroke-width="1.2"/>
<text x="586.25" y="869.40" font-size="10.5" fill="#231f20" style="" textLength="6.60" lengthAdjust="spacingAndGlyphs">5</text>
<line x1="679.50" y1="850.60" x2="679.50" y2="855.60" stroke="#9cc2e8" stroke-width="1.2"/>
<text x="672.90" y="869.40" font-size="10.5" fill="#231f20" style="" textLength="13.20" lengthAdjust="spacingAndGlyphs">10</text>
<text x="500.80" y="888.00" font-size="13" fill="#231f20" style="" textLength="87.88" lengthAdjust="spacingAndGlyphs">Cumulative NH</text>
<text x="588.68" y="891.60" font-size="9.36" fill="#231f20" style="" textLength="5.23" lengthAdjust="spacingAndGlyphs">3</text>
<text x="593.92" y="888.00" font-size="13" fill="#231f20" style="" textLength="84.98" lengthAdjust="spacingAndGlyphs"> reduction (Tg)</text>
<text transform="translate(467.2,750.8) rotate(-90)" x="-83.00" y="0" font-size="13" fill="#231f20" textLength="166" lengthAdjust="spacingAndGlyphs">Abatement cost (billion US$)</text>
</svg>
</body></html>
